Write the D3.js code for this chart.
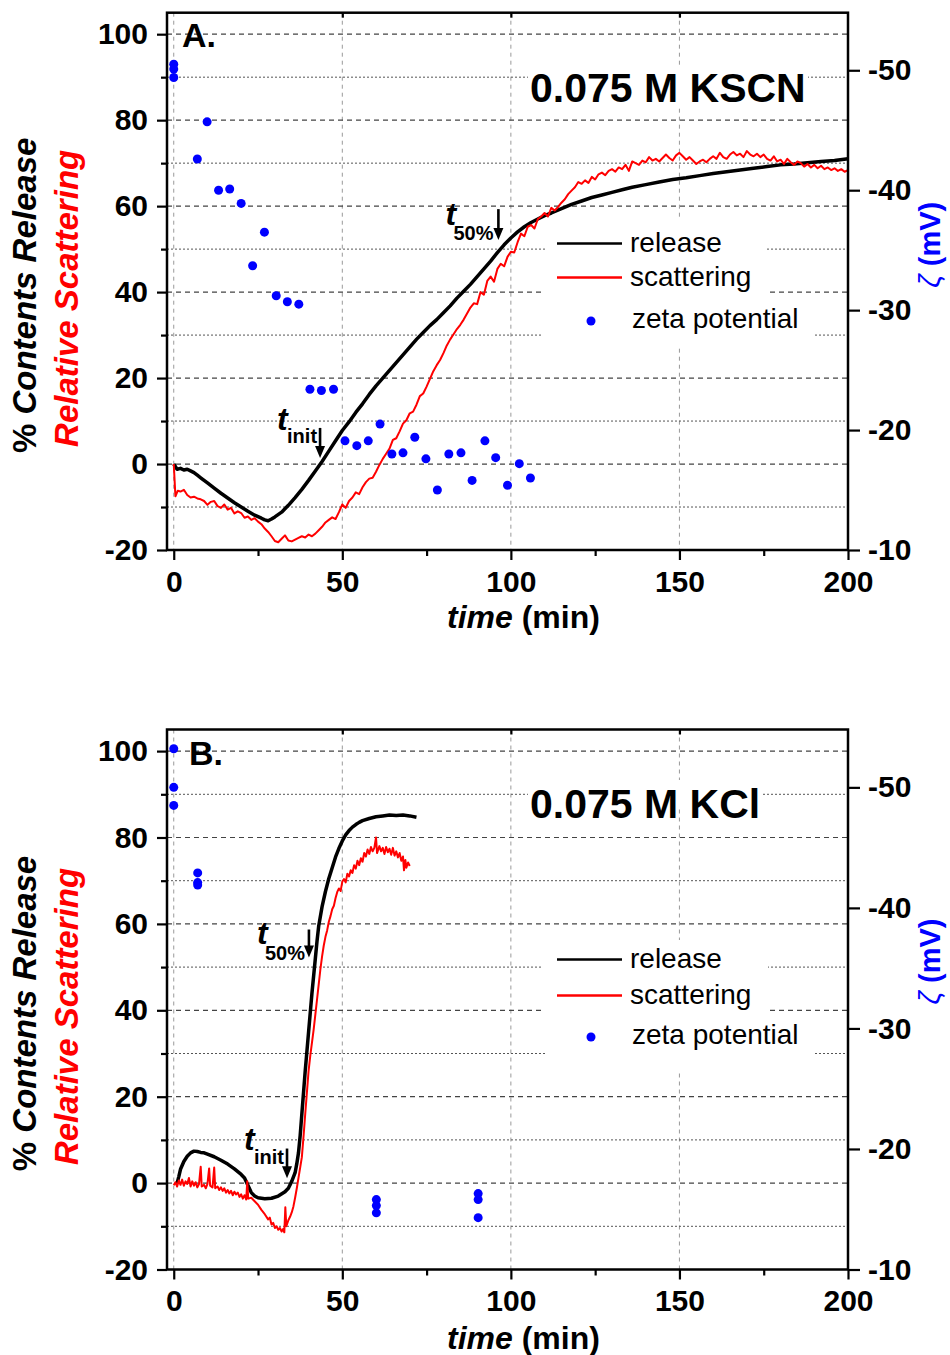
<!DOCTYPE html>
<html>
<head>
<meta charset="utf-8">
<script src="https://cdn.jsdelivr.net/npm/d3@7"></script>
<style>
body { margin: 0; background: #fff; }
text { font-family: "Liberation Sans", Arial, sans-serif; }
</style>
</head>
<body>
<svg id="chart" width="950" height="1355"></svg>
<script>
// ---- data (time in min) ----
var releaseA = [[0,0],[1,-1.2],[2,-1],[3,-1.4],[4,-1.2],[5,-1.6],[6,-2],[7,-2.6],[8,-3.2],[9,-3.8],[10,-4.4],
  [12,-5.6],[14,-6.8],[16,-7.9],[18,-9],[20,-10],[22,-11],[24,-11.9],[26,-12.6],[27,-13],[28,-13.2],[29,-12.8],
  [30,-12.3],[32,-11.2],[34,-9.6],[36,-7.8],[38,-5.9],[40,-3.8],[42,-1.6],[44,0.6],[46,3],[48,5.4],[50,7.8],
  [52,9.8],[54,12],[56,14],[58,16.2],[60,18.2],[62,20],[64,21.8],[66,23.6],[68,25.4],[70,27.2],[72,29],
  [74,30.6],[76,32.2],[78,33.6],[80,35.2],[82,36.8],[84,38.6],[86,40.2],[88,41.8],[90,43.6],[92,45.4],
  [94,47.2],[96,49.2],[98,51],[100,52.6],[102,54],[104,55.2],[106,56.2],[108,57],[110,57.8],[112,58.4],
  [115,59.4],[118,60.4],[121,61.2],[124,62],[127,62.6],[130,63.2],[133,63.8],[136,64.4],[140,65],[144,65.6],
  [148,66.2],[152,66.6],[156,67.1],[160,67.6],[164,68],[168,68.4],[172,68.8],[176,69.2],[180,69.6],
  [184,69.8],[188,70.1],[192,70.4],[196,70.6],[200,71]];

var scatterA = [[0,0],[0.5,-7.5],[1.2,-6.2],[2,-6.4],[3,-6],[4,-7.2],[5,-7.8],[6,-7.6],[7,-8],[8,-8.2],[9,-8.6],
  [10,-9.5],[11,-8.8],[12,-8.6],[13,-9.8],[14,-10.2],[15,-9.4],[16,-10.6],[17,-10.2],[18,-11.5],[19,-11],
  [20,-11.4],[21,-12.5],[22,-12.2],[23,-13],[24,-12.6],[25,-13.4],[26,-14],[27,-15],[28,-15.8],[29,-16.8],
  [30,-17.9],[31,-18.2],[32,-17.4],[33,-16.6],[34,-17.8],[35,-18],[36,-17.6],[37,-17.2],[38,-16.8],[39,-17.1],
  [40,-16.4],[41,-16.8],[42,-16.2],[43,-15.4],[44,-14.6],[45,-13.6],[46,-13],[47,-12.4],[48,-12.8],[49,-11.2],
  [50,-9.4],[51,-10.2],[52,-8.6],[53,-7.8],[54,-6.6],[55,-7],[56,-5.4],[57,-4.2],[58,-3.4],[59,-3.2],[60,-1.8],
  [61,-0.2],[62,1.2],[63,2.4],[64,3.6],[65,5.6],[66,6],[67,7.6],[68,9.4],[69,10.2],[70,11.8],[71,12.2],
  [72,13.8],[73,15.8],[74,16.4],[75,18],[76,19.8],[77,21.6],[78,23],[79,24.2],[80,25.8],[81,27.6],[82,29],
  [83,30.2],[84,31.4],[85,32.4],[86,33.6],[87,35],[88,36.4],[89,37.4],[90,37.2],[91,40],[92,39.4],[93,42.6],
  [94,43.6],[95,42.4],[96,45.4],[97,46.6],[98,46],[99,48.2],[100,49.4],[101,49.2],[102,51.6],[103,53.6],
  [104,53],[105,55.2],[106,55.6],[107,54.8],[108,57],[109,57.6],[110,58.4],[111,57.6],[112,59.6],[113,59],
  [114,59.8],[115,60.8],[116,61.6],[117,62.8],[118,63.6],[119,64.4],[120,65.6],[121,65.2],[122,66],[123,65.4],
  [124,66.8],[125,66.2],[126,67.4],[127,67.8],[128,67.2],[129,68.2],[130,68.6],[131,68],[132,69],[133,68.6],
  [134,69.6],[135,68.2],[136,70.4],[137,70],[138,69.6],[139,70.6],[140,70.2],[141,71.4],[142,70.6],[143,71],
  [144,70.4],[145,71.2],[146,72],[147,71.2],[148,70.6],[149,71.8],[150,72.4],[151,71.6],[152,70.8],[153,71.4],
  [154,70.6],[155,69.8],[156,70.4],[157,70.8],[158,70.2],[159,71],[160,71.6],[161,71],[162,72.4],[163,71.4],
  [164,71],[165,72],[166,72.6],[167,71.8],[168,72.2],[169,71.4],[170,72.8],[171,72],[172,71.6],[173,72.2],
  [174,71.4],[175,72],[176,71],[177,70.6],[178,71.6],[179,70.4],[180,70.8],[181,69.8],[182,71],[183,70.2],
  [184,69.6],[185,70.4],[186,70],[187,69.2],[188,69.8],[189,69],[190,69.6],[191,68.8],[192,69.4],[193,68.6],
  [194,69],[195,68.4],[196,68.8],[197,68.2],[198,68.6],[199,68],[200,68.4]];

var zetaA = [[0,-50.5],[0,-50.1],[0,-49.4],[7.0,-42.6],[9.9,-45.7],[13.3,-40.0],[16.6,-40.1],[20.0,-38.9],
  [23.4,-33.7],[26.9,-36.5],[30.4,-31.2],[33.7,-30.7],[37.1,-30.5],[40.4,-23.4],[43.8,-23.3],[47.4,-23.4],
  [50.8,-19.1],[54.3,-18.7],[57.7,-19.1],[61.2,-20.5],[64.7,-18.0],[68.0,-18.1],[71.5,-19.4],[74.8,-17.6],
  [78.2,-15.0],[81.6,-18.0],[85.2,-18.1],[88.5,-15.8],[92.3,-19.1],[95.5,-17.7],[99.0,-15.4],[102.5,-17.2],
  [105.8,-16.0]];

var releaseB = [[1,0],[1.5,1.5],[2,3.2],[3,5],[4,6.2],[5,7],[6,7.4],[7,7.3],[8,7.1],[9,7],[10,6.7],[12,6.1],
  [14,5.3],[16,4.4],[18,3.3],[20,2],[21,1.2],[22,-0.5],[23,-2.2],[24,-3],[25,-3.4],[27,-3.6],[29,-3.5],
  [31,-3],[33,-2],[34,-1.2],[35,0.4],[36,2.4],[36.5,4.5],[37,7],[37.5,11],[38,16],[38.5,21],[39,26],
  [39.5,30.5],[40,35],[40.5,39.5],[41,44],[41.5,48],[42,52],[42.5,56],[43,59.5],[44,64],[45,67.5],[46,70.5],
  [47,73],[48,75.5],[49,77.5],[50,79.2],[51,80.6],[52,81.6],[53,82.4],[54,83],[55,83.5],[56,83.9],[58,84.4],
  [60,84.8],[62,85],[64,85.2],[66,85.1],[68,85.2],[70,85],[72,84.7]];

var scatterB = [[0,-0.5],[0.5,0.2],[1,-0.8],[1.5,0.6],[2,-0.4],[2.5,0.8],[3,-0.6],[3.5,0.4],[4,-0.2],[4.5,1.2],
  [5,-0.8],[5.5,0.4],[6,-0.6],[6.5,0.2],[7,-1],[7.5,-0.2],[8,3.8],[8.3,-0.8],[9,-0.4],[9.5,-1.2],[10,-0.2],
  [10.5,3.4],[10.8,-0.6],[11.5,-1],[12,3.6],[12.3,-1.2],[13,-0.8],[13.5,-1.6],[14,-1],[14.5,-1.8],[15,-1.2],
  [15.5,-2.2],[16,-1.6],[16.5,-2.4],[17,-1.8],[17.5,-2.8],[18,-2],[18.5,-2.6],[19,-2.2],[19.5,-3.2],[20,-2.6],
  [20.5,-3.6],[21,-2.8],[21.5,-3.8],[21.8,0.4],[22.1,-3.6],[23,-3.4],[24,-4.2],[25,-5],[26,-6.2],[27,-7.2],
  [28,-8.4],[28.5,-8],[29,-9.6],[29.5,-9.2],[30,-10.4],[30.5,-10],[31,-10.8],[31.5,-10.4],[32,-11.2],
  [32.5,-10.6],[32.8,-11.4],[33.1,-5.6],[33.4,-10],[34,-8.6],[34.5,-7.8],[35,-6.8],[35.5,-5.4],[36,-3.4],
  [36.5,-1.2],[37,1.2],[37.5,3.6],[38,6],[38.5,10.8],[39,16],[39.5,21],[40,26],[40.5,29.5],[41,32.5],
  [41.5,35.5],[42,39],[42.5,42.5],[43,46],[43.5,49.5],[44,52.5],[44.5,55],[45,57],[45.5,58.5],[46,60.5],
  [46.5,61.8],[47,63.4],[47.5,64.2],[48,66],[48.5,67.4],[49,68.2],[49.5,67.6],[50,69.8],[50.5,70.4],[51,69.6],
  [51.5,71.6],[52,71],[52.5,72.4],[53,71.8],[53.5,73.6],[54,72.8],[54.5,74.6],[55,73.6],[55.5,75.2],[56,74.4],
  [56.5,76.4],[57,75.6],[57.5,77.2],[58,76.2],[58.5,77.8],[59,76.8],[59.5,77.6],[60,80],[60.3,76.4],[61,78],
  [61.5,76.8],[62,77.6],[62.5,76.2],[63,77.8],[63.5,76.6],[64,77.4],[64.5,76],[65,77.6],[65.5,75.8],[66,76.8],
  [66.5,75.4],[67,76.4],[67.5,74.6],[68,75.6],[68.3,72.4],[68.7,74.8],[69,73],[69.5,74.2],[70,73.4]];

var zetaB = [[0,-53.2],[0,-50.0],[0,-48.5],[7.1,-42.9],[7.1,-42.1],[7.1,-41.9],
  [60.1,-15.8],[60.1,-15.3],[60.1,-14.7],[90.3,-16.3],[90.3,-15.8],[90.3,-14.3]];

var xTicks = [0, 50, 100, 150, 200];
var xMinor = [25, 75, 125, 175];
var yTicks = [-20, 0, 20, 40, 60, 80, 100];
var yMinor = [-10, 10, 30, 50, 70, 90];
var zTicks = [-50, -40, -30, -20, -10];
var gridX = [0, 50, 100, 150];
var legendLabels = ["release", "scattering", "zeta potential"];

var svg = d3.select("#chart");
svg.append("rect").attr("width", 950).attr("height", 1355).attr("fill", "#fff");

var left = 167, right = 848;

function drawPanel(p) {
  var x = d3.scaleLinear().domain([-2, 200]).range([left, right]);
  var y = d3.scaleLinear().domain([-20, 105]).range([p.bottom, p.top]);
  var z = d3.scaleLinear().domain([-10, -54.8]).range([p.bottom, p.top]);
  var g = svg.append("g");

  // grid
  g.selectAll(".gx").data(gridX).enter().append("line")
    .attr("x1", d => x(d)).attr("x2", d => x(d)).attr("y1", p.top).attr("y2", p.bottom)
    .attr("stroke", "#999").attr("stroke-width", 1).attr("stroke-dasharray", "4,4");
  g.selectAll(".gy").data(yTicks.slice(1)).enter().append("line")
    .attr("x1", left).attr("x2", right).attr("y1", d => y(d)).attr("y2", d => y(d))
    .attr("stroke", "#444").attr("stroke-width", 1.2).attr("stroke-dasharray", "5,4");
  g.selectAll(".gm").data(yMinor).enter().append("line")
    .attr("x1", left).attr("x2", right).attr("y1", d => y(d)).attr("y2", d => y(d))
    .attr("stroke", "#555").attr("stroke-width", 1).attr("stroke-dasharray", "2,2");

  // white boxes behind title and legend
  p.boxes.forEach(function (b) {
    g.append("rect").attr("x", b[0]).attr("y", b[1]).attr("width", b[2] - b[0]).attr("height", b[3] - b[1])
      .attr("fill", "#fff");
  });

  var line = d3.line().x(d => x(d[0])).y(d => y(d[1]));
  g.append("path").datum(p.release).attr("d", line)
    .attr("fill", "none").attr("stroke", "#000").attr("stroke-width", 3.5).attr("stroke-linejoin", "round");
  g.append("path").datum(p.scatter).attr("d", line)
    .attr("fill", "none").attr("stroke", "#ff0000").attr("stroke-width", 2).attr("stroke-linejoin", "round");
  g.selectAll(".zd").data(p.zeta).enter().append("circle")
    .attr("cx", d => x(d[0])).attr("cy", d => z(d[1])).attr("r", 4.5).attr("fill", "#0000ff");

  // frame
  g.append("rect").attr("x", left).attr("y", p.top).attr("width", right - left).attr("height", p.bottom - p.top)
    .attr("fill", "none").attr("stroke", "#000").attr("stroke-width", 2.5);

  function styleAxis(sel, size) {
    sel.select(".domain").remove();
    sel.selectAll("line").attr("stroke", "#000").attr("stroke-width", 2.2);
    sel.selectAll("text").attr("font-size", size).attr("font-weight", "bold").attr("fill", "#000")
      .style("font-family", '"Liberation Sans", Arial, sans-serif');
  }
  var fmt = d => String(d);
  g.append("g").attr("transform", "translate(0," + p.bottom + ")")
    .call(d3.axisBottom(x).tickValues(xTicks).tickFormat(fmt).tickSize(10).tickPadding(10.5))
    .call(s => styleAxis(s, 30));
  g.append("g").attr("transform", "translate(0," + p.bottom + ")")
    .call(d3.axisBottom(x).tickValues(xMinor).tickFormat("").tickSize(6))
    .call(s => styleAxis(s, 30));
  g.append("g").attr("transform", "translate(0," + p.top + ")")
    .call(d3.axisBottom(x).tickValues([50, 100, 150]).tickFormat("").tickSize(5))
    .call(s => styleAxis(s, 30));
  g.append("g").attr("transform", "translate(" + left + ",0)")
    .call(d3.axisLeft(y).tickValues(yTicks).tickFormat(fmt).tickSize(10).tickPadding(9))
    .call(s => styleAxis(s, 30));
  g.append("g").attr("transform", "translate(" + left + ",0)")
    .call(d3.axisLeft(y).tickValues(yMinor).tickFormat("").tickSize(6))
    .call(s => styleAxis(s, 30));
  g.append("g").attr("transform", "translate(" + right + ",0)")
    .call(d3.axisRight(z).tickValues(zTicks).tickFormat(fmt).tickSize(12).tickPadding(8))
    .call(s => styleAxis(s, 30));

  // panel letter and title
  g.append("text").attr("x", p.letterX).attr("y", p.letterY).attr("font-size", 34).attr("font-weight", "bold")
    .text(p.letter);
  g.append("text").attr("x", 530).attr("y", p.titleY).attr("font-size", 41).attr("font-weight", "bold")
    .text(p.title);

  // axis titles
  var xl = g.append("text").attr("x", 447).attr("y", p.xLabelY).attr("font-size", 32).attr("font-weight", "bold");
  xl.append("tspan").attr("font-style", "italic").text("time");
  xl.append("tspan").text(" (min)");

  var yc = (p.top + p.bottom) / 2 + 14;
  var yl1 = g.append("text").attr("transform", "translate(36," + yc + ") rotate(-90)")
    .attr("text-anchor", "middle").attr("font-size", 33).attr("font-weight", "bold");
  yl1.append("tspan").text("% ");
  yl1.append("tspan").attr("font-style", "italic").text("Contents Release");
  g.append("text").attr("transform", "translate(78," + (yc + 3) + ") rotate(-90)")
    .attr("text-anchor", "middle").attr("font-size", 33).attr("font-weight", "bold")
    .attr("font-style", "italic").attr("fill", "#ff0000").text("Relative Scattering");

  var zl = g.append("text").attr("transform", "translate(940," + (p.top + 232) + ") rotate(-90)")
    .attr("text-anchor", "middle").attr("font-size", 29).attr("fill", "#0000ff");
  zl.append("tspan").attr("font-style", "italic").text("\u03b6 ");
  zl.append("tspan").attr("font-weight", "bold").text("(mV)");

  // legend
  var L = p.legend;
  g.append("line").attr("x1", 557).attr("x2", 622).attr("y1", L[0]).attr("y2", L[0])
    .attr("stroke", "#000").attr("stroke-width", 2.5);
  g.append("line").attr("x1", 557).attr("x2", 622).attr("y1", L[1]).attr("y2", L[1])
    .attr("stroke", "#ff0000").attr("stroke-width", 2.5);
  g.append("circle").attr("cx", 591).attr("cy", L[2]).attr("r", 4.5).attr("fill", "#0000ff");
  g.selectAll(".lt").data(legendLabels).enter().append("text")
    .attr("x", (d, i) => i < 2 ? 630 : 632).attr("y", (d, i) => L[i] + (i === 2 ? 7 : 8.5))
    .attr("font-size", 28).text(d => d);

  // t_init / t_50% markers
  p.marks.forEach(function (m) {
    var ax = x(m.t), ay0 = y(m.top), ay1 = y(m.tip);
    g.append("line").attr("x1", ax).attr("x2", ax).attr("y1", ay0).attr("y2", ay1 - 9)
      .attr("stroke", "#000").attr("stroke-width", 2.6);
    g.append("path").attr("d", "M" + (ax - 5) + "," + (ay1 - 12) + "L" + (ax + 5) + "," + (ay1 - 12) +
      "L" + ax + "," + ay1 + "Z").attr("fill", "#000");
    g.append("text").attr("x", ax + m.tdx).attr("y", ay0 + m.tdy).attr("font-size", 32)
      .attr("font-weight", "bold").attr("font-style", "italic").text("t");
    g.append("text").attr("x", ax + m.sdx).attr("y", ay0 + m.sdy).attr("font-size", 20)
      .attr("font-weight", "bold").text(m.sub);
  });
}

drawPanel({
  top: 12.7, bottom: 550, letter: "A.", letterX: 182, letterY: 47,
  title: "0.075 M KSCN", titleY: 102, xLabelY: 628,
  release: releaseA, scatter: scatterA, zeta: zetaA,
  legend: [243.5, 277.5, 321],
  boxes: [[528, 66, 808, 105], [545, 220, 766, 305], [542, 305, 815, 347]],
  marks: [
    {t: 43.4, top: 8.4, tip: 1.4, sub: "init", tdx: -43, tdy: 2, sdx: -33, sdy: 15},
    {t: 96.3, top: 59.3, tip: 52.1, sub: "50%", tdx: -53, tdy: 16, sdx: -45, sdy: 31}
  ]
});

drawPanel({
  top: 729.5, bottom: 1269.5, letter: "B.", letterX: 189, letterY: 765,
  title: "0.075 M KCl", titleY: 818, xLabelY: 1349,
  release: releaseB, scatter: scatterB, zeta: zetaB,
  legend: [959.5, 995.5, 1037],
  boxes: [[528, 780, 762, 806], [543, 940, 768, 1030], [545, 1030, 815, 1070]],
  marks: [
    {t: 33.6, top: 8.0, tip: 1.1, sub: "init", tdx: -43, tdy: 1, sdx: -33, sdy: 15},
    {t: 40.1, top: 58.7, tip: 52.2, sub: "50%", tdx: -52, tdy: 14, sdx: -44, sdy: 30}
  ]
});
</script>
</body>
</html>
